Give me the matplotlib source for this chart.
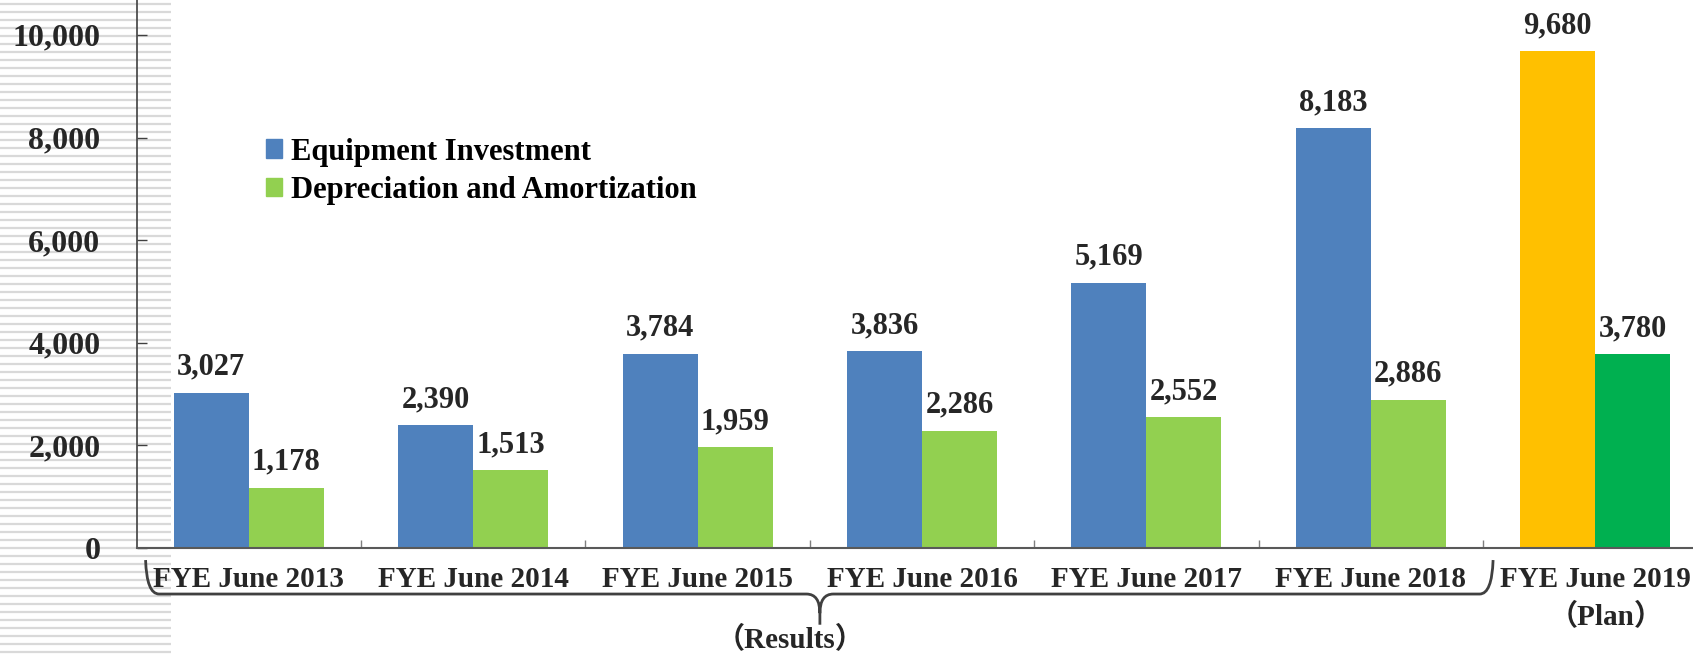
import matplotlib
matplotlib.use('Agg')
import matplotlib.pyplot as plt
from matplotlib.patches import PathPatch, Patch
from matplotlib.path import Path
import matplotlib.transforms as mtransforms
import numpy as np

# Data (JPY million)
categories = ['FYE June 2013', 'FYE June 2014', 'FYE June 2015', 'FYE June 2016',
              'FYE June 2017', 'FYE June 2018', 'FYE June 2019']
equipment = [3027, 2390, 3784, 3836, 5169, 8183, 9680]
depreciation = [1178, 1513, 1959, 2286, 2552, 2886, 3780]
series_names = ['Equipment Investment', 'Depreciation and Amortization']
y_ticks = [0, 2000, 4000, 6000, 8000, 10000]

BLUE = '#4F81BD'
LGREEN = '#92D050'
ORANGE = '#FFC000'
DGREEN = '#00B050'
TXT = '#262626'
SERIF = 'Liberation Serif'

W, H = 1693, 654
fig = plt.figure(figsize=(W / 100, H / 100), dpi=100)
fig.patch.set_facecolor('white')

# striped strip on the far left
bg = fig.add_axes([0, 0, 171 / W, 1], zorder=0)
bg.set_xlim(0, 1)
bg.set_ylim(0, H)
bg.hlines(np.arange(2, H, 8), 0, 1, color='#D9D9D9', lw=1.6)
bg.axis('off')

ax_left = 136.6 / W
ax_bottom = (H - 548) / H
ax = fig.add_axes([ax_left, ax_bottom, 1570.8 / W, 548 / H], zorder=1)
ax.patch.set_alpha(0)

x = np.arange(len(categories))
bw = 0.334
blue_cols = [BLUE] * 6 + [ORANGE]
green_cols = [LGREEN] * 6 + [DGREEN]
b1 = ax.bar(x - bw / 2, equipment, bw, color=blue_cols, zorder=2)
b2 = ax.bar(x + bw / 2, depreciation, bw, color=green_cols, zorder=2)

for bars, vals in ((b1, equipment), (b2, depreciation)):
    for rect, v in zip(bars, vals):
        ax.annotate(f'{v:,}', (rect.get_x() + rect.get_width() / 2, v),
                    xytext=(0, 8), textcoords='offset points',
                    ha='center', va='bottom', fontsize=22, fontweight='bold',
                    family=SERIF, color=TXT)

ax.set_xlim(-0.5, 6.5)
ax.set_ylim(0, 10680)
ax.set_yticks(y_ticks)
ax.set_yticklabels([f'{t:,}' for t in y_ticks], fontsize=23, fontweight='bold',
                   family=SERIF, color=TXT)
ax.set_xticks(x)
ax.set_xticklabels(categories, fontsize=21, fontweight='bold', family=SERIF, color=TXT)
ax.set_xticks(np.arange(0.5, 6.5, 1), minor=True)
ax.tick_params(axis='x', which='major', length=0, pad=13)
ax.tick_params(axis='x', which='minor', direction='in', length=6, width=1, color='#7F7F7F')
ax.tick_params(axis='y', direction='in', length=7, width=1, color='#404040', pad=26)

for s in ('top', 'right'):
    ax.spines[s].set_visible(False)
ax.spines['left'].set_color('#404040')
ax.spines['left'].set_linewidth(1.2)
ax.spines['bottom'].set_color('#595959')
ax.spines['bottom'].set_linewidth(1.5)

# legend
handles = [Patch(color=BLUE), Patch(color=LGREEN)]
leg = ax.legend(handles, series_names, loc='upper left',
                bbox_to_anchor=(238 / W, (H - 110) / H), bbox_transform=fig.transFigure,
                frameon=False, handlelength=0.55, handleheight=0.55, handletextpad=0.3,
                labelspacing=0.3, prop={'family': SERIF, 'weight': 'bold', 'size': 22})
for t in leg.get_texts():
    t.set_color('black')

# brace under the results years
trans = mtransforms.blended_transform_factory(ax.transData, ax.transAxes)
L, R, C = -0.46, 5.545, 2.545
yt, yh, yb = -0.022, -0.084, -0.14
verts = [
    (L, yt), (L + 0.005, yh), (L + 0.06, yh),
    (C - 0.06, yh), (C, yh), (C, yh - 0.035), (C, yb),
    (R, yt), (R - 0.005, yh), (R - 0.06, yh),
    (C + 0.06, yh), (C, yh), (C, yh - 0.035),
]
codes = [
    Path.MOVETO, Path.CURVE3, Path.CURVE3,
    Path.LINETO, Path.CURVE3, Path.CURVE3, Path.LINETO,
    Path.MOVETO, Path.CURVE3, Path.CURVE3,
    Path.LINETO, Path.CURVE3, Path.CURVE3,
]
ax.add_patch(PathPatch(Path(verts, codes), transform=trans, fill=False,
                       edgecolor='#404040', lw=2, clip_on=False))

ax.text(2.41, -0.168, '（Results）', transform=trans, ha='center', va='center',
        fontsize=21, fontweight='bold', family=[SERIF, 'Noto Sans CJK JP'], color=TXT)
ax.text(6.05, -0.126, '（Plan）', transform=trans, ha='center', va='center',
        fontsize=21, fontweight='bold', family=[SERIF, 'Noto Sans CJK JP'], color=TXT)

fig.savefig('out.png', dpi=100, facecolor='white')
